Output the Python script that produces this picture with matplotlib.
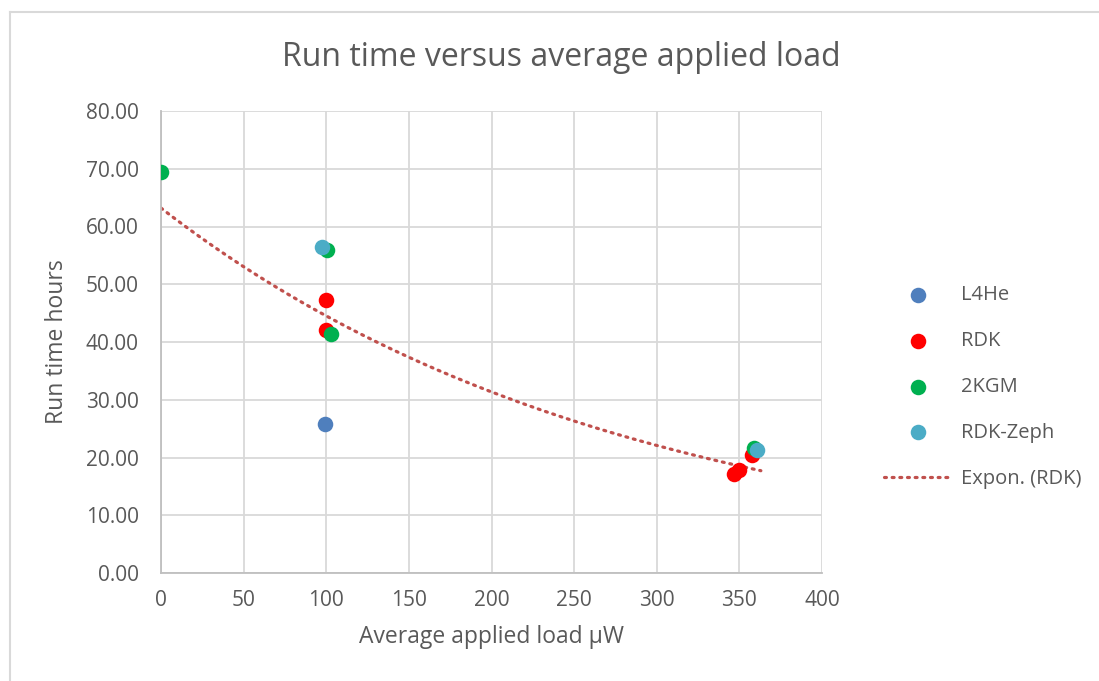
import matplotlib.pyplot as plt
from matplotlib.lines import Line2D
import numpy as np

plt.rcParams['font.family'] = ['Open Sans', 'DejaVu Sans']
TXT = "#595959"
GRID = "#d9d9d9"

# data
l4he_x = [99.5]
l4he_y = [25.8]
rdk_x = [100.0, 100.0, 347.0, 350.0, 357.5]
rdk_y = [47.3, 42.1, 17.1, 17.8, 20.5]
kgm_x = [0.0, 100.5, 103.0, 359.0]
kgm_y = [69.5, 55.9, 41.4, 21.6]
zeph_x = [97.5, 360.5]
zeph_y = [56.5, 21.3]

fig = plt.figure(figsize=(10.99, 6.81), dpi=100)
fig.patch.set_facecolor('white')

# chart area border
fig.add_artist(Line2D([10/1099, 10/1099], [0, 1 - 12/681], transform=fig.transFigure, color=GRID, lw=1.5))
fig.add_artist(Line2D([10/1099, 1], [1 - 12/681, 1 - 12/681], transform=fig.transFigure, color=GRID, lw=1.5))

ax = fig.add_axes([161/1099, 1 - 573/681, 661/1099, 462/681])

# exponential trendline fitted to RDK
b, a = np.polyfit(rdk_x, np.log(rdk_y), 1)
xt = np.linspace(0, 363, 200)
ax.plot(xt, np.exp(a) * np.exp(b * xt), color="#c0504d", lw=2.3, ls=(0, (0.6, 1.8)),
        dash_capstyle='round', zorder=2, label="Expon. (RDK)")

ms = 125
ax.scatter(l4he_x, l4he_y, s=ms, color="#4f7fbd", zorder=3, label="L4He", linewidths=0)
ax.scatter(rdk_x, rdk_y, s=ms, color="#ff0000", zorder=3, label="RDK", linewidths=0)
ax.scatter(kgm_x, kgm_y, s=ms, color="#00b050", zorder=3, label="2KGM", linewidths=0)
ax.scatter(zeph_x, zeph_y, s=ms, color="#4bacc6", zorder=4, label="RDK-Zeph", linewidths=0)

ax.set_xlim(0, 400)
ax.set_ylim(0, 80)
ax.set_xticks(np.arange(0, 401, 50))
ax.set_yticks(np.arange(0, 81, 10))
ax.set_yticklabels([f"{v:.2f}" for v in np.arange(0, 81, 10)])
ax.grid(True, color=GRID, lw=1.3)
ax.set_axisbelow(True)
for s in ['top', 'right']:
    ax.spines[s].set_visible(False)
for s in ['left', 'bottom']:
    ax.spines[s].set_color("#bfbfbf")
    ax.spines[s].set_linewidth(1.3)
ax.tick_params(length=0, labelsize=15, colors=TXT)
ax.tick_params(axis='y', pad=16)
ax.tick_params(axis='x', pad=12)

ax.set_xlabel("Average applied load µW", fontsize=16.5, color=TXT, labelpad=10)
ax.set_ylabel("Run time hours", fontsize=16.5, color=TXT, labelpad=12)
fig.text(561/1099, 1 - 58/681, "Run time versus average applied load", fontsize=23,
         color=TXT, ha='center', va='center')

h, l = ax.get_legend_handles_labels()
order = [1, 2, 3, 4, 0]
leg = fig.legend([h[i] for i in order], [l[i] for i in order], loc='center left',
                 bbox_to_anchor=(866/1099, 1 - 387/681), frameon=False, fontsize=14.5,
                 labelspacing=1.28, handlelength=3.4, handletextpad=0.4, scatterpoints=1)
for t in leg.get_texts():
    t.set_color(TXT)

fig.savefig("out.png", dpi=100)
